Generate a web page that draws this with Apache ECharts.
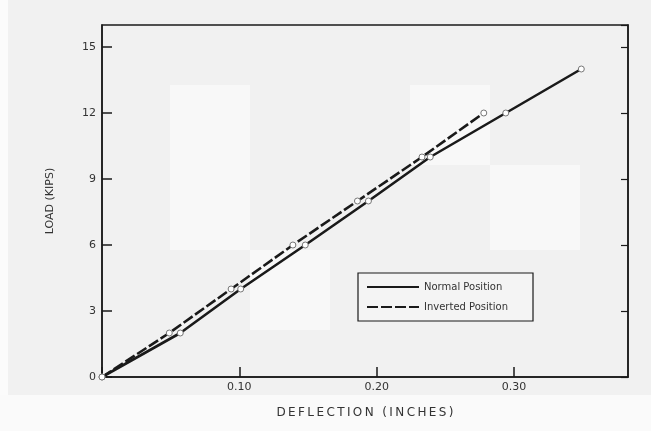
<!DOCTYPE html>
<html>
<head>
<meta charset="utf-8">
<script src="https://cdn.jsdelivr.net/npm/echarts@6/dist/echarts.min.js"></script>
<style>
  html, body { margin: 0; padding: 0; background: #f1f1f1; }
  #chart { width: 651px; height: 431px; }
</style>
</head>
<body>
<div id="chart"></div>
<script>
// Load–deflection readings for the two specimen orientations
const normalDeflection   = [0, 0.057, 0.101, 0.148, 0.194, 0.239, 0.294, 0.349];
const normalLoad         = [0, 2, 4, 6, 8, 10, 12, 14];
const invertedDeflection = [0, 0.049, 0.094, 0.139, 0.186, 0.233, 0.278];
const invertedLoad       = [0, 2, 4, 6, 8, 10, 12];

const seriesNames = ['Normal Position', 'Inverted Position'];
const yTicks = [0, 3, 6, 9, 12, 15];
const xTitle = 'DEFLECTION (INCHES)';
const yTitle = 'LOAD (KIPS)';

const FONT = '"DejaVu Sans", sans-serif';
const INK = '#1a1a1a';
const TEXT = '#333';

// widen the lettering of the deflection title with thin spaces
const spaced = s => s.split('').join('\u2009');

function pairs(xs, ys) {
  return xs.map((x, i) => [x, ys[i]]);
}

const chart = echarts.init(document.getElementById('chart'), null, { renderer: 'canvas' });

const pointStyle = { color: '#ffffff', borderColor: '#777', borderWidth: 1 };

chart.setOption({
  backgroundColor: '#f1f1f1',
  animation: false,
  graphic: [
    { type: 'rect', silent: true, z: -10, shape: { x: 0, y: 0, width: 8, height: 431 }, style: { fill: '#fbfbfb' } },
    { type: 'rect', silent: true, z: -10, shape: { x: 170, y: 85, width: 80, height: 165 }, style: { fill: '#f8f8f8' } },
    { type: 'rect', silent: true, z: -10, shape: { x: 410, y: 85, width: 80, height: 80 }, style: { fill: '#f8f8f8' } },
    { type: 'rect', silent: true, z: -10, shape: { x: 490, y: 165, width: 90, height: 85 }, style: { fill: '#f8f8f8' } },
    { type: 'rect', silent: true, z: -10, shape: { x: 250, y: 250, width: 80, height: 80 }, style: { fill: '#f8f8f8' } },
    { type: 'rect', silent: true, z: -10, shape: { x: 0, y: 395, width: 651, height: 36 }, style: { fill: '#fafafa' } }
  ],
  grid: {
    left: 102, right: 23, top: 25, bottom: 54,
    show: true, borderColor: INK, borderWidth: 1.5, backgroundColor: 'transparent'
  },
  legend: {
    orient: 'vertical',
    left: 358, top: 273,
    padding: [9, 25, 9, 8],
    itemGap: 10,
    itemWidth: 52,
    itemHeight: 10,
    borderColor: INK,
    borderWidth: 1.2,
    backgroundColor: '#f4f4f4',
    data: seriesNames,
    itemStyle: { opacity: 0 },
    textStyle: { fontFamily: FONT, fontSize: 10, color: TEXT }
  },
  xAxis: {
    type: 'value',
    min: 0, max: 0.383, interval: 0.1,
    name: spaced(xTitle),
    nameLocation: 'middle',
    nameGap: 30,
    nameTextStyle: { fontFamily: FONT, fontSize: 12, color: TEXT },
    axisLine: { show: true, lineStyle: { color: INK, width: 1.5 } },
    axisTick: { show: true, inside: true, length: 10, lineStyle: { color: INK, width: 1.5 } },
    splitLine: { show: false },
    axisLabel: {
      fontFamily: FONT, fontSize: 11, color: TEXT, margin: 5,
      showMaxLabel: false,
      formatter: v => (v > 0 && Math.abs(v * 10 - Math.round(v * 10)) < 1e-6) ? v.toFixed(2) : ''
    }
  },
  yAxis: [
    {
      type: 'value',
      min: 0, max: 16, interval: 3,
      name: yTitle,
      nameLocation: 'middle',
      nameGap: 46,
      nameTextStyle: { fontFamily: FONT, fontSize: 11, color: TEXT },
      axisLine: { show: true, lineStyle: { color: INK, width: 1.5 } },
      axisTick: { show: true, inside: true, length: 10, lineStyle: { color: INK, width: 1.5 } },
      splitLine: { show: false },
      axisLabel: {
        fontFamily: FONT, fontSize: 11, color: TEXT, margin: 6,
        showMaxLabel: false,
        formatter: v => yTicks.includes(v) ? String(v) : ''
      }
    },
    {
      type: 'value',
      position: 'right',
      min: 0, max: 16, interval: 3,
      axisLine: { show: true, lineStyle: { color: INK, width: 1.5 } },
      axisTick: { show: true, inside: true, length: 7, lineStyle: { color: INK, width: 1.2 } },
      splitLine: { show: false },
      axisLabel: { show: false }
    }
  ],
  series: [
    {
      name: seriesNames[0],
      type: 'line',
      data: pairs(normalDeflection, normalLoad),
      symbol: 'circle',
      symbolSize: 6,
      showSymbol: true,
      itemStyle: pointStyle,
      lineStyle: { color: INK, width: 2.6, type: 'solid' },
      z: 3
    },
    {
      name: seriesNames[1],
      type: 'line',
      data: pairs(invertedDeflection, invertedLoad),
      symbol: 'circle',
      symbolSize: 6,
      showSymbol: true,
      itemStyle: pointStyle,
      lineStyle: { color: INK, width: 2.6, type: [11, 3] },
      z: 3
    }
  ]
});
</script>
</body>
</html>
